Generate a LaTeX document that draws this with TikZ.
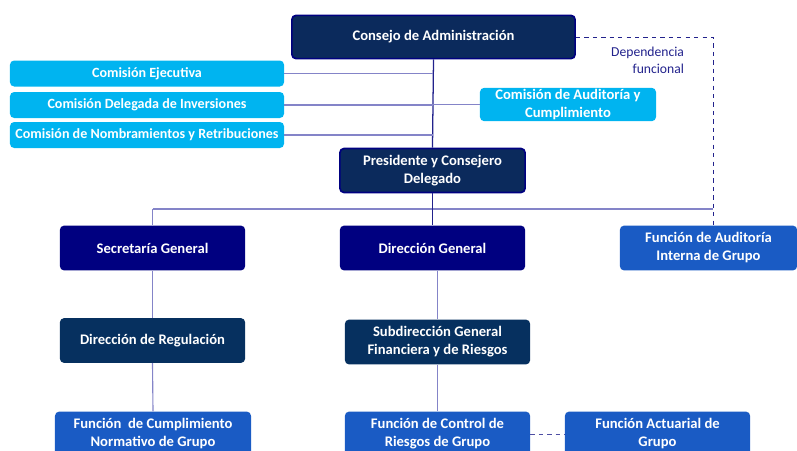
\documentclass[tikz,border=0pt]{standalone}
\usepackage{fontspec}
\setmainfont{Carlito}
\usepackage{tikz}
\usetikzlibrary{positioning,calc}
\definecolor{navyfill}{HTML}{0B2A5C}
\definecolor{navy}{HTML}{000080}
\definecolor{deepblue}{HTML}{06305F}
\definecolor{midblue}{HTML}{1A5BC4}
\definecolor{skyblue}{HTML}{00B4F0}
\definecolor{linedark}{HTML}{22228C}
\definecolor{linelight}{HTML}{8484C8}

\begin{document}
\begin{tikzpicture}[x=0.025cm, y=-0.025cm,
  box/.style={rectangle, rounded corners=3pt, align=center, text=white, font=\fontsize{10.4}{12.8}\selectfont\bfseries, inner sep=1pt, minimum width=4.63cm, minimum height=1.12cm},
  board/.style={box, fill=navyfill, draw=navy, line width=1.2pt},
  comm/.style={box, fill=skyblue, minimum width=6.85cm, minimum height=0.65cm, font=\fontsize{10}{12.8}\selectfont\bfseries},
  direc/.style={box, fill=navy},
  subdir/.style={box, fill=deepblue},
  func/.style={box, fill=midblue},
  conn/.style={linelight, line width=0.8pt},
  spine/.style={linedark, line width=0.9pt},
  dep/.style={linedark, dashed, line width=0.7pt}
]
\useasboundingbox (0,0) rectangle (797,450);

% ---- Board and committees ----
\node[board, minimum width=7.08cm, minimum height=1.08cm] (cons) at (433.5,37) {Consejo de Administración};
\node[comm] (ce)  at (147,73.5) {Comisión Ejecutiva};
\node[comm] (cdi) at (147,105)  {Comisión Delegada de Inversiones};
\node[comm] (cnr) at (147,135)  {Comisión de Nombramientos y Retribuciones};
\node[comm, minimum width=4.4cm, minimum height=0.83cm, font=\fontsize{10.4}{12.8}\selectfont\bfseries] (cac) at (568,104.5) {Comisión de Auditoría y\\Cumplimiento};
\node[board, minimum height=1.1cm] (pres) at (432.5,170.5) {Presidente y Consejero\\Delegado};
\node[text=linedark, font=\fontsize{9.7}{12}\selectfont, align=right, anchor=north east] (deptxt) at (689,42) {Dependencia\\funcional};

\draw[spine] (cons.south) -- (pres.north);
\draw[conn] (ce.east) -- (ce.east -| pres.north);
\draw[conn] (cdi.east) -- (cdi.east -| pres.north);
\draw[conn] (cnr.east) -- (cnr.east -| pres.north);
\draw[conn] (cac.west) -- (cac.west -| pres.north);

% ---- First level ----
\node[direc] (sg)  at (152.5,248) {Secretaría General};
\node[direc] (dg)  at (432.5,248) {Dirección General};
\node[func, minimum width=4.43cm] (aui) at (708.5,248) {Función de Auditoría\\Interna de Grupo};

\coordinate (barL) at (152.5,209);
\coordinate (barR) at (713,209);
\coordinate (dcorner) at (713,37);
\draw[conn] (barL) -- (barR);
\draw[conn] (barL) -- (sg.north);
\draw[spine] (pres.south) -- (dg.north);
\draw[dep] (cons.east) -- (dcorner) -- (dcorner |- aui.north);

% ---- Second level ----
\node[subdir] (reg) at (152.5,340.5)  {Dirección de Regulación};
\node[subdir] (sub) at (437.5,342) {Subdirección General\\Financiera y de Riesgos};

\draw[conn] (sg.south) -- (reg.north);
\draw[conn] (dg.south -| sub.north) -- (sub.north);

% ---- Functions ----
\node[func, minimum width=4.9cm] (cum) at (153,434) {Función\ \ de Cumplimiento\\Normativo de Grupo};
\node[func] (crg) at (437.5,434) {Función de Control de\\Riesgos de Grupo};
\node[func] (act) at (657.5,434) {Función Actuarial de\\Grupo};

\draw[conn] (reg.south) -- (cum.north);
\draw[conn] (sub.south) -- (crg.north);
\draw[dep, linedark!80] (crg.east) -- (act.west);

\end{tikzpicture}
\end{document}
